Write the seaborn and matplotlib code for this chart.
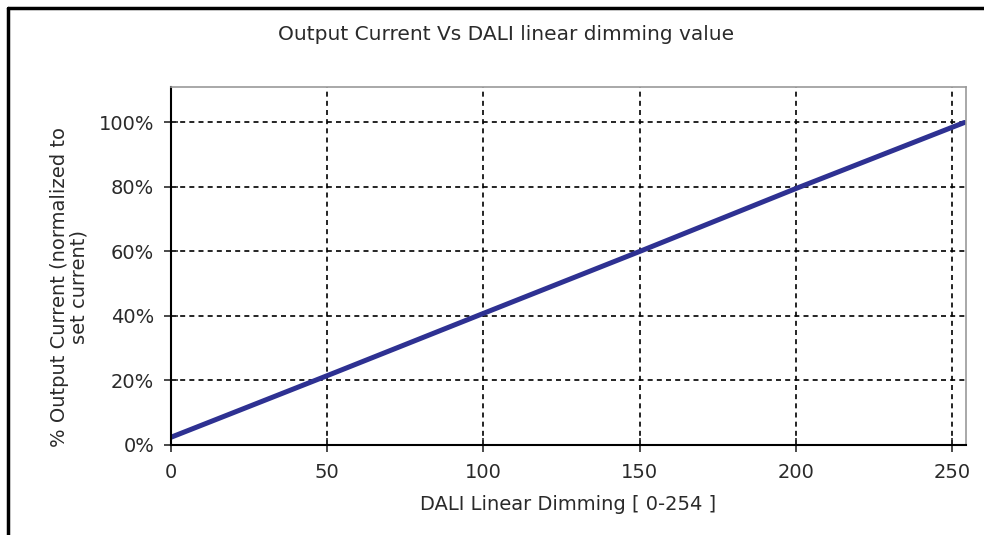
import matplotlib
matplotlib.use("Agg")
import matplotlib.pyplot as plt
import seaborn as sns
import pandas as pd
from matplotlib.ticker import FuncFormatter
from matplotlib.lines import Line2D

dimming = [0, 50, 100, 150, 200, 254]
current_pct = [2.4, 21.5, 40.8, 60.0, 79.5, 100.0]
x_ticks = [0, 50, 100, 150, 200, 250]
y_ticks = [0, 20, 40, 60, 80, 100]

df = pd.DataFrame({"x": dimming, "y": current_pct})

sns.set_theme(style="white")
plt.rcParams['font.family'] = ['DejaVu Sans']

TXT = "#2a2a2a"
fig = plt.figure(figsize=(9.84, 5.35), dpi=100)
ax = fig.add_axes([171/984, 1-445/535, (966-171)/984, (445-87)/535])

sns.lineplot(data=df, x="x", y="y", ax=ax, color="#2e3192", linewidth=3.6)

ax.set_xlim(0, 254.5)
ax.set_ylim(0, 111)
ax.set_xticks(x_ticks)
ax.set_yticks(y_ticks)
ax.yaxis.set_major_formatter(FuncFormatter(lambda v, p: f"{int(v)}%"))
ax.tick_params(axis="both", labelsize=14, colors=TXT, direction="inout",
               length=10, width=1.2, left=True, bottom=True)
ax.tick_params(axis="x", pad=8)
ax.tick_params(axis="y", pad=7)

for v in x_ticks[1:]:
    ax.axvline(v, color="black", linestyle=(0, (3, 2.5)), linewidth=1.2, zorder=0)
for v in y_ticks[1:]:
    ax.axhline(v, color="black", linestyle=(0, (3, 2.5)), linewidth=1.2, zorder=0)

for s in ["left", "bottom"]:
    ax.spines[s].set_color("black")
    ax.spines[s].set_linewidth(1.5)
for s in ["top", "right"]:
    ax.spines[s].set_color("#999999")
    ax.spines[s].set_linewidth(1.2)

ax.set_xlabel("DALI Linear Dimming [ 0-254 ]", fontsize=14, color=TXT, labelpad=9)
ax.set_ylabel("% Output Current (normalized to\nset current)", fontsize=14,
              color=TXT, linespacing=1.0, va="center")
ax.yaxis.set_label_coords(-0.128, 0.44)
fig.text(506/984, 1-34/535, "Output Current Vs DALI linear dimming value",
         ha="center", va="center", fontsize=14.5, color=TXT)

# outer frame (top and left edges visible)
fig.add_artist(Line2D([8/984, 8/984], [0, 1-8/535], transform=fig.transFigure,
                      color="black", linewidth=2.5))
fig.add_artist(Line2D([8/984, 1], [1-8/535, 1-8/535], transform=fig.transFigure,
                      color="black", linewidth=2.5))

fig.savefig("out.png", dpi=100)
